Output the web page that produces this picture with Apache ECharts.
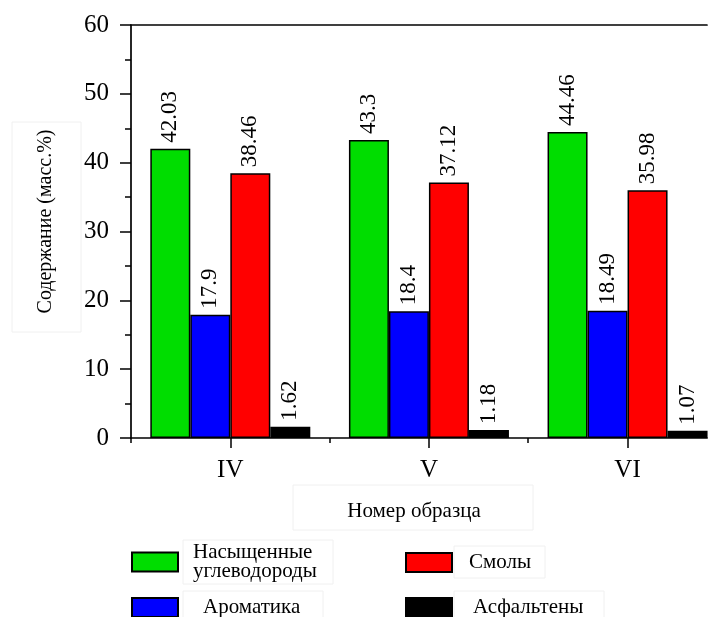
<!DOCTYPE html>
<html>
<head>
<meta charset="utf-8">
<script src="https://cdn.jsdelivr.net/npm/echarts@6/dist/echarts.min.js"></script>
<style>html,body{margin:0;padding:0;background:#fff}#c{width:716px;height:617px}</style>
</head>
<body>
<div id="c"></div>
<script>
// ---- data ----
var categories = ['IV', 'V', 'VI'];
var seriesNames = ['Насыщенные\nуглеводороды', 'Ароматика', 'Смолы', 'Асфальтены'];
var saturates = [42.03, 43.3, 44.46];
var aromatics = [17.9, 18.4, 18.49];
var resins = [38.46, 37.12, 35.98];
var asphaltenes = [1.62, 1.18, 1.07];
var yTicks = [0, 10, 20, 30, 40, 50, 60];
var yTitle = 'Содержание (масс.%)';
var xTitle = 'Номер образца';

var colors = ['#00dd00', '#0000ff', '#ff0000', '#000000'];
var FONT = 'Liberation Serif';
var catPos = categories.map(function (c, i) { return i + 1; });
function toPairs(arr) { return arr.map(function (v, i) { return [catPos[i], v]; }); }
var allValues = [saturates, aromatics, resins, asphaltenes];

var chart = echarts.init(document.getElementById('c'), null, { renderer: 'canvas' });

var series = allValues.map(function (vals, k) {
  return {
    name: seriesNames[k],
    type: 'bar',
    xAxisIndex: 0,
    yAxisIndex: 0,
    data: toPairs(vals),
    barWidth: 40,
    barGap: '0%',
    itemStyle: { color: colors[k], borderColor: '#000', borderWidth: 1.5 },
    label: {
      show: true,
      position: 'top',
      rotate: 90,
      align: 'left',
      verticalAlign: 'middle',
      distance: 6,
      fontFamily: FONT,
      fontSize: 23,
      color: '#000',
      formatter: function (p) { return String(p.value[1]); }
    },
    emphasis: { disabled: true },
    animation: false
  };
});

function legendAt(name, left, top, pad) {
  return {
    data: [name],
    left: left,
    top: top,
    orient: 'vertical',
    itemWidth: 46,
    itemHeight: 19,
    selectedMode: false,
    icon: 'rect',
    textStyle: { fontFamily: FONT, fontSize: 21, color: '#000', lineHeight: 19, padding: [0, 0, 0, pad] }
  };
}

var option = {
  backgroundColor: '#fff',
  animation: false,
  grid: { left: 131, right: 9, top: 25, bottom: 179, containLabel: false },
  xAxis: [
    {
      type: 'value', position: 'bottom', min: 0.5, max: 3.4,
      axisLine: { show: true, onZero: false, lineStyle: { color: '#000', width: 1.7 } },
      axisTick: { show: true, customValues: catPos, length: 10, lineStyle: { color: '#000', width: 1.5 } },
      axisLabel: {
        show: true, customValues: catPos, margin: 20,
        fontFamily: FONT, fontSize: 25, color: '#000',
        formatter: function (v) { var i = catPos.indexOf(Math.round(v)); return i >= 0 ? categories[i] : ''; }
      },
      splitLine: { show: false },
      name: xTitle, nameLocation: 'middle', nameGap: 63,
      nameTextStyle: { fontFamily: FONT, fontSize: 21, color: '#000', padding: [0, 0, 0, -10] }
    },
    {
      type: 'value', position: 'bottom', min: 0.5, max: 3.4,
      axisLine: { show: false },
      axisTick: { show: true, customValues: [0.5, 1.5, 2.5], length: 5, lineStyle: { color: '#000', width: 1.5 } },
      axisLabel: { show: false },
      splitLine: { show: false }
    },
    {
      type: 'value', position: 'top', min: 0.5, max: 3.4,
      axisLine: { show: true, onZero: false, lineStyle: { color: '#000', width: 1.7 } },
      axisTick: { show: false },
      axisLabel: { show: false },
      splitLine: { show: false }
    }
  ],
  yAxis: [{
    type: 'value', min: yTicks[0], max: yTicks[yTicks.length - 1], interval: 10,
    axisLine: { show: true, onZero: false, lineStyle: { color: '#000', width: 1.7 } },
    axisTick: { show: true, length: 11, lineStyle: { color: '#000', width: 1.5 } },
    minorTick: { show: true, splitNumber: 2, length: 6, lineStyle: { color: '#000', width: 1.5 } },
    axisLabel: { margin: 22, fontFamily: FONT, fontSize: 25, color: '#000' },
    splitLine: { show: false },
    minorSplitLine: { show: false },
    name: yTitle, nameLocation: 'middle', nameGap: 75,
    nameTextStyle: { fontFamily: FONT, fontSize: 20, color: '#000', padding: [0, 0, 0, 20] }
  }],
  legend: [
    legendAt(seriesNames[0], 126, 537, 10),
    legendAt(seriesNames[1], 126, 592, 20),
    legendAt(seriesNames[2], 400, 547, 12),
    legendAt(seriesNames[3], 400, 592, 16)
  ],
  graphic: [
    { type: 'rect', shape: { x: 12, y: 122, width: 69, height: 210 }, style: { fill: 'none', stroke: '#f0f0f0', lineWidth: 1 }, silent: true },
    { type: 'rect', shape: { x: 293, y: 485, width: 240, height: 45 }, style: { fill: 'none', stroke: '#f0f0f0', lineWidth: 1 }, silent: true },
    { type: 'rect', shape: { x: 183, y: 540, width: 150, height: 44 }, style: { fill: 'none', stroke: '#f0f0f0', lineWidth: 1 }, silent: true },
    { type: 'rect', shape: { x: 183, y: 591, width: 140, height: 30 }, style: { fill: 'none', stroke: '#f0f0f0', lineWidth: 1 }, silent: true },
    { type: 'rect', shape: { x: 454, y: 546, width: 91, height: 32 }, style: { fill: 'none', stroke: '#f0f0f0', lineWidth: 1 }, silent: true },
    { type: 'rect', shape: { x: 454, y: 591, width: 150, height: 30 }, style: { fill: 'none', stroke: '#f0f0f0', lineWidth: 1 }, silent: true }
  ],
  series: series
};
chart.setOption(option);
</script>
</body>
</html>
